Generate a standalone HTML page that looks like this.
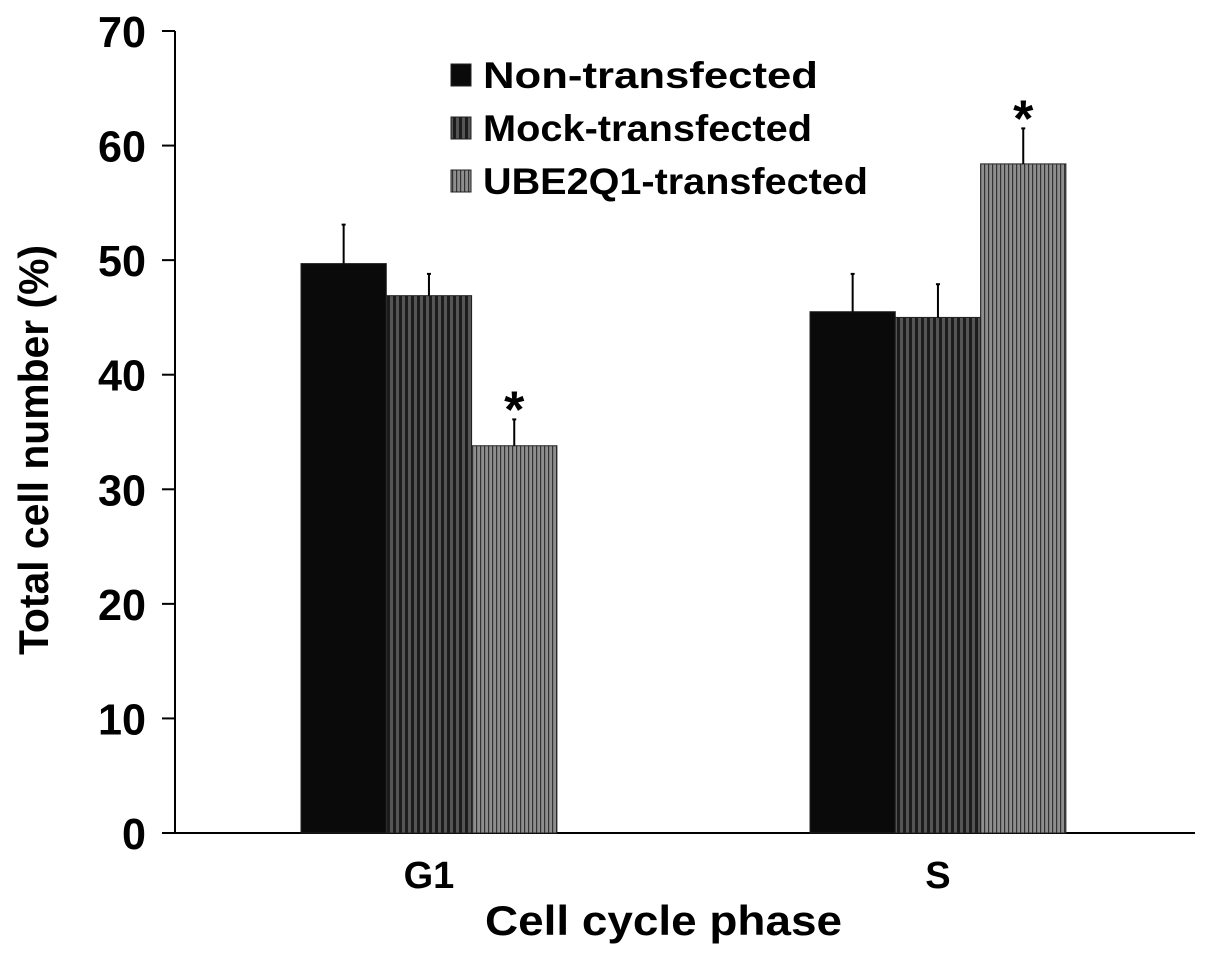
<!DOCTYPE html>
<html><head><meta charset="utf-8"><style>
body{margin:0;background:#fff}
svg text{font-family:"Liberation Sans",Arial,sans-serif;font-weight:bold;fill:#000}
</style></head><body>
<svg id="chart" width="1205" height="956" viewBox="0 0 1205 956">
<defs>
<pattern id="mock" width="6" height="10" patternUnits="userSpaceOnUse"><rect width="6" height="10" fill="#1c1c1c"/><rect x="0" width="3" height="10" fill="#555"/></pattern>
<pattern id="ube" width="4" height="10" patternUnits="userSpaceOnUse"><rect width="4" height="10" fill="#8e8e8e"/><rect x="0" width="1.2" height="10" fill="#333"/></pattern>
</defs>
<g id="axes"></g>
<g id="bars"></g>
<g id="legend"></g>
</svg>
<script>
const categories=["G1","S"];
const seriesNames=["Non-transfected","Mock-transfected","UBE2Q1-transfected"];
const nonVals=[49.7,45.5];
const mockVals=[46.9,45.0];
const ubeVals=[33.8,58.4];
const nonErr=[3.4,3.3];
const mockErr=[1.9,2.9];
const ubeErr=[2.3,3.1];
const significant=[[false,false,true],[false,false,true]];
const yTicks=[0,10,20,30,40,50,60,70];

const NS="http://www.w3.org/2000/svg";
function mk(t,a,p){const e=document.createElementNS(NS,t);for(const k in a)e.setAttribute(k,a[k]);p.appendChild(e);return e;}
const y0=833,y70=31;
function yS(v){return y0-(v/70)*(y0-y70);}
const groupStart=[301,810],bw=85.3;
function xS(ci,si){return groupStart[ci]+si*bw;}
const axes=document.getElementById('axes');
let yl=mk('line',{x1:175,y1:y70,x2:175,y2:y0,stroke:'#000','stroke-width':2},axes);


let xl=mk('line',{x1:174,y1:y0,x2:1195,y2:y0,stroke:'#000','stroke-width':2},axes);


yTicks.forEach(v=>{
 const y=yS(v);
 let tk=mk('line',{x1:162,y1:y,x2:175,y2:y,stroke:'#000','stroke-width':2},axes);
 
 
 const s=String(v);
 let t=mk('text',{x:146,y:y+16,'text-anchor':'end','font-size':44,textLength:s.length*24,lengthAdjust:'spacingAndGlyphs'},axes);t.textContent=s;
 
 
});
categories.forEach((c,i)=>{
 let t=mk('text',{x:xS(i,1.5),y:888,'text-anchor':'middle','font-size':38},axes);t.textContent=c;
 
 
});
let xt=mk('text',{x:485,y:935,'font-size':42,textLength:357,lengthAdjust:'spacingAndGlyphs'},axes);xt.textContent="Cell cycle phase";


let yt=mk('text',{x:-655,y:48,'font-size':42,textLength:410,lengthAdjust:'spacingAndGlyphs',transform:'rotate(-90)'},axes);yt.textContent="Total cell number (%)";



const fills=['#0a0a0a','url(#mock)','url(#ube)'];
const vals=[nonVals,mockVals,ubeVals],errs=[nonErr,mockErr,ubeErr];
const bars=document.getElementById('bars');
categories.forEach((c,ci)=>{
 for(let si=0;si<3;si++){
  const v=vals[si][ci],e=errs[si][ci],x=xS(ci,si);
  let r=mk('rect',{x:x,y:yS(v),width:bw,height:y0-yS(v),fill:fills[si],stroke:'#222','stroke-width':1},bars);
  
  
  const cx=x+bw/2;
  let el=mk('line',{x1:cx,y1:yS(v),x2:cx,y2:yS(v+e),stroke:'#000','stroke-width':2},bars);
  
  
  let cap=mk('line',{x1:cx-2,y1:yS(v+e),x2:cx+2,y2:yS(v+e),stroke:'#000','stroke-width':2},bars);
  
  
  if(significant[ci][si]){
   let s=mk('text',{x:cx,y:yS(v+e)+8,'text-anchor':'middle','font-size':52},bars);s.textContent='*';
   
   
  }
 }
});
const legend=document.getElementById('legend');
const legY=[75,128,181];
const legLen=[335,329,385];
seriesNames.forEach((n,i)=>{
 let sw=mk('rect',{x:451,y:legY[i]-11,width:20,height:22,fill:fills[i],stroke:'#222','stroke-width':1},legend);
 
 
 let t=mk('text',{x:483,y:legY[i]+13,'font-size':37,textLength:legLen[i],lengthAdjust:'spacingAndGlyphs'},legend);t.textContent=n;
 
 
});
</script>
</body></html>
